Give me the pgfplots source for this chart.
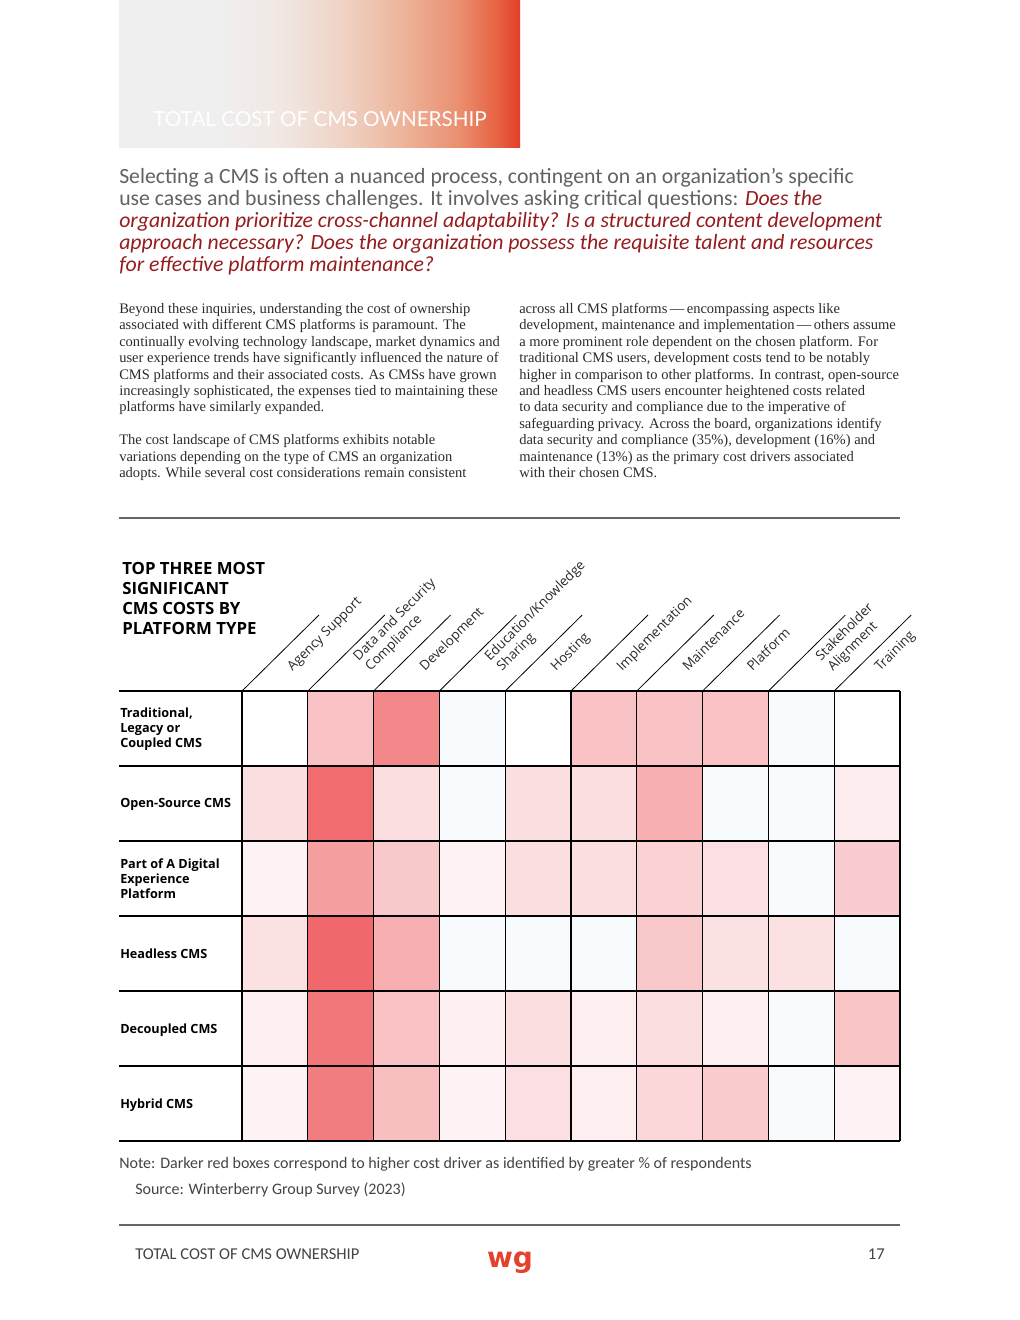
\documentclass[border=0pt]{standalone}
\usepackage{pgfplots}
\pgfplotsset{compat=1.18}
\usepackage{fontspec}
\setmainfont{Liberation Serif}
\newfontfamily\opensans{Open Sans}
\newfontfamily\carlito{Carlito}
\newfontfamily\lato{Lato}
\newfontfamily\dejavu{DejaVu Sans}

\definecolor{h0}{HTML}{EFEFEF}
\definecolor{h1}{HTML}{F1E8E4}
\definecolor{h2}{HTML}{EFD4C7}
\definecolor{h3}{HTML}{EDB69D}
\definecolor{h4}{HTML}{EA8E6F}
\definecolor{h5}{HTML}{E6603F}
\definecolor{h6}{HTML}{E33D27}
\definecolor{introgray}{HTML}{626262}
\definecolor{introred}{HTML}{961C1E}
\definecolor{bodytext}{HTML}{2B2B2B}
\definecolor{notegray}{HTML}{444444}
\definecolor{labeltext}{HTML}{2A2A2A}
\definecolor{rulegray}{HTML}{666666}
\definecolor{logored}{HTML}{E5412C}

\pgfdeclarehorizontalshading{hdr}{100bp}{color(0bp)=(h0); color(37.5bp)=(h0); color(45bp)=(h1); color(52.5bp)=(h2); color(60bp)=(h3); color(67.5bp)=(h4); color(72.5bp)=(h5); color(75bp)=(h6); color(100bp)=(h6)}

\newcommand\bodyfont{\fontsize{10.9}{12}\selectfont}
\newcommand\introfont{\carlito\fontsize{16.3}{18}\selectfont}
\newcommand\collab{\opensans\fontsize{10}{11}\selectfont}
\newcommand\rowlab{\opensans\bfseries\fontsize{9.5}{11}\selectfont}

\begin{document}
\begin{tikzpicture}[x=0.75pt,y=-0.75pt]
\useasboundingbox (0,0) rectangle (1020,1320);
\fill[white] (0,0) rectangle (1020,1320);

% header banner
\shade[shading=hdr] (119,0) rectangle (520,147);
\node[anchor=base west, inner sep=0pt, text=white, font=\lato\fontsize{15.5}{18}\selectfont] at (153,126) {TOTAL COST OF CMS OWNERSHIP};

% intro paragraph
\begin{scope}[every node/.style={anchor=base west, inner sep=0pt, font=\introfont}]
\node[text=introgray] at (119,183.5) {Selecting a CMS is often a nuanced process, contingent on an organization’s specific};
\node[text=introgray] at (119,205.4) {use cases and business challenges. It involves asking critical questions: \textcolor{introred}{\itshape Does the}};
\node[text=introred] at (119,227.3) {\itshape organization prioritize cross-channel adaptability? Is a structured content development};
\node[text=introred] at (119,249.2) {\itshape approach necessary? Does the organization possess the requisite talent and resources};
\node[text=introred] at (119,271.1) {\itshape for effective platform maintenance?};
\end{scope}

% body text
\begin{scope}[every node/.style={anchor=base west, inner sep=0pt, font=\bodyfont, text=bodytext}]
\node at (119,313.5) {Beyond these inquiries, understanding the cost of ownership};
\node at (119,329.9) {associated with different CMS platforms is paramount. The};
\node at (119,346.3) {continually evolving technology landscape, market dynamics and};
\node at (119,362.7) {user experience trends have significantly influenced the nature of};
\node at (119,379.1) {CMS platforms and their associated costs. As CMSs have grown};
\node at (119,395.5) {increasingly sophisticated, the expenses tied to maintaining these};
\node at (119,411.9) {platforms have similarly expanded.};
\node at (119,444.7) {The cost landscape of CMS platforms exhibits notable};
\node at (119,461.1) {variations depending on the type of CMS an organization};
\node at (119,477.5) {adopts. While several cost considerations remain consistent};
\node at (519,313.5) {across all CMS platforms\,—\,encompassing aspects like};
\node at (519,329.9) {development, maintenance and implementation\,—\,others assume};
\node at (519,346.3) {a more prominent role dependent on the chosen platform. For};
\node at (519,362.7) {traditional CMS users, development costs tend to be notably};
\node at (519,379.1) {higher in comparison to other platforms. In contrast, open-source};
\node at (519,395.5) {and headless CMS users encounter heightened costs related};
\node at (519,411.9) {to data security and compliance due to the imperative of};
\node at (519,428.3) {safeguarding privacy. Across the board, organizations identify};
\node at (519,444.7) {data security and compliance (35\%), development (16\%) and};
\node at (519,461.1) {maintenance (13\%) as the primary cost drivers associated};
\node at (519,477.5) {with their chosen CMS.};
\end{scope}

\draw[rulegray, line width=0.8pt] (119,518) -- (900,518);

% heatmap title
\begin{scope}[every node/.style={anchor=base west, inner sep=0pt, font=\opensans\bfseries\fontsize{12.6}{14}\selectfont, text=black}]
\node at (122,574) {TOP THREE MOST};
\node at (122,594) {SIGNIFICANT};
\node at (122,614) {CMS COSTS BY};
\node at (122,634) {PLATFORM TYPE};
\end{scope}

% diagonals
\foreach \L in {242,307.8,373.6,439.4,505.2,571,636.8,702.6,768.4,834.2}{
  \draw[black, line width=0.6pt] (\L,691) -- ({\L+77},615);
}

% column labels
\begin{scope}[every node/.style={anchor=base west, inner sep=0pt, rotate=45, font=\collab, text=labeltext}]
\node at (292.5,672) {Agency Support};
\node at (358.5,661.5) {Data and Security};
\node at (370.5,672) {Compliance};
\node at (425,672) {Development};
\node at (490,661.5) {Education/Knowledge};
\node at (502,672) {Sharing};
\node at (556,672) {Hosting};
\node at (622,672) {Implementation};
\node at (688,672) {Maintenance};
\node at (752.5,672) {Platform};
\node at (821,661.5) {Stakeholder};
\node at (833,672) {Alignment};
\node at (880,672) {Training};
\end{scope}

% row labels
\begin{scope}[every node/.style={anchor=base west, inner sep=0pt, font=\rowlab, text=black}]
\node at (120,717.5) {Traditional,};
\node at (120,732.5) {Legacy or};
\node at (120,747.5) {Coupled CMS};
\node at (120,807.5) {Open-Source CMS};
\node at (120,868.5) {Part of A Digital};
\node at (120,883.5) {Experience};
\node at (120,898.5) {Platform};
\node at (120,958.5) {Headless CMS};
\node at (120,1033.5) {Decoupled CMS};
\node at (120,1108.5) {Hybrid CMS};
\end{scope}

\coordinate (hmSW) at (242,1141);
\begin{axis}[
  at={(hmSW)}, anchor=south west,
  width=493.5pt, height=337.5pt, scale only axis,
  xmin=0, xmax=10, ymin=0, ymax=6,
  hide axis, clip=false,
  colormap={hm}{rgb255(0pt)=(255,255,255) rgb255(1pt)=(248,251,254) rgb255(2pt)=(254,250,252) rgb255(101pt)=(240,104,107)},
  point meta min=0, point meta max=101,
]
\addplot[matrix plot*, mesh/cols=10, point meta=explicit, draw=none] table[x=x, y=y, meta=v] {
x y v
0.5 0.5 7
1.5 0.5 87
2.5 0.5 42
3.5 0.5 7
4.5 0.5 20
5.5 0.5 10
6.5 0.5 26
7.5 0.5 34
8.5 0.5 1
9.5 0.5 7
0.5 1.5 10
1.5 1.5 91
2.5 1.5 40
3.5 1.5 10
4.5 1.5 21
5.5 1.5 10
6.5 1.5 21
7.5 1.5 10
8.5 1.5 1
9.5 1.5 38
0.5 2.5 19
1.5 2.5 101
2.5 2.5 53
3.5 2.5 1
4.5 2.5 1
5.5 2.5 1
6.5 2.5 36
7.5 2.5 19
8.5 2.5 19
9.5 2.5 1
0.5 3.5 7
1.5 3.5 64
2.5 3.5 36
3.5 3.5 7
4.5 3.5 21
5.5 3.5 21
6.5 3.5 29
7.5 3.5 20
8.5 3.5 1
9.5 3.5 33
0.5 4.5 21
1.5 4.5 98
2.5 4.5 21
3.5 4.5 1
4.5 4.5 21
5.5 4.5 21
6.5 4.5 53
7.5 4.5 1
8.5 4.5 1
9.5 4.5 11
0.5 5.5 0
1.5 5.5 40
2.5 5.5 79
3.5 5.5 1
4.5 5.5 0
5.5 5.5 40
6.5 5.5 40
7.5 5.5 40
8.5 5.5 1
9.5 5.5 0
};
\pgfplotsinvokeforeach{0,...,10}{\draw[black, line width=1pt] (axis cs:#1,0) -- (axis cs:#1,6);}
\pgfplotsinvokeforeach{0,...,6}{\draw[black, line width=1pt] (axis cs:-1.869,#1) -- (axis cs:10,#1);}
\end{axis}

% note and source
\node[anchor=base west, inner sep=0pt, font=\carlito\fontsize{12}{14}\selectfont, text=notegray] at (119,1168.5) {Note: Darker red boxes correspond to higher cost driver as identified by greater \% of respondents};
\node[anchor=base west, inner sep=0pt, font=\carlito\fontsize{12}{14}\selectfont, text=notegray] at (135,1194.5) {Source: Winterberry Group Survey (2023)};

\draw[rulegray, line width=0.8pt] (119,1225) -- (900,1225);

% footer
\node[anchor=base west, inner sep=0pt, font=\carlito\fontsize{12.4}{14}\selectfont, text=notegray] at (135,1259.5) {TOTAL COST OF CMS OWNERSHIP};
\node[anchor=base east, inner sep=0pt, font=\carlito\fontsize{12.4}{14}\selectfont, text=notegray] at (885,1259.5) {17};
\node[anchor=base, inner sep=0pt, font=\dejavu\bfseries\fontsize{21}{22}\selectfont, text=logored] at (510,1267) {wg};
\end{tikzpicture}
\end{document}
